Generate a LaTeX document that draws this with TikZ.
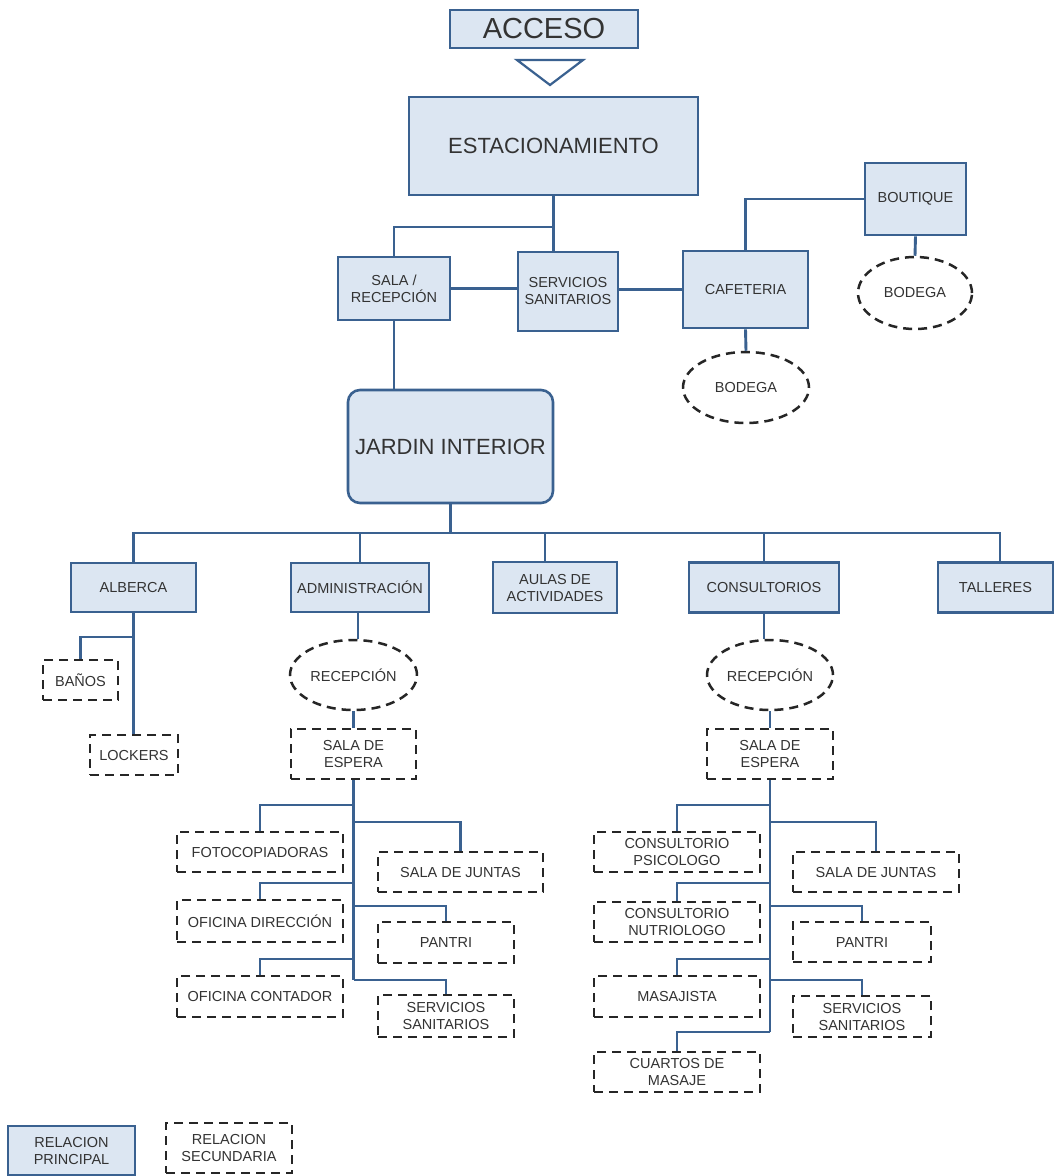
\documentclass[tikz,border=0pt]{standalone}
\usepackage{fontspec}
\setmainfont{Liberation Sans}
\usetikzlibrary{shapes.geometric}
\definecolor{bordblue}{HTML}{3A6190}
\definecolor{fillblue}{HTML}{DCE6F2}
\definecolor{txtc}{HTML}{333333}
\definecolor{dashc}{HTML}{262626}
\begin{document}
\begin{tikzpicture}[x=1pt,y=-1pt,
  every node/.style={inner sep=0pt, align=center, text=txtc, font=\fontsize{14.5}{17}\selectfont},
  mainbox/.style={draw=bordblue, line width=2.6pt, fill=fillblue, rectangle},
  secbox/.style={draw=dashc, line width=2.5pt, dash pattern=on 9pt off 6pt, rectangle, fill=white},
  secell/.style={draw=dashc, line width=2.5pt, dash pattern=on 9pt off 6pt, ellipse, fill=white},
  link/.style={draw=bordblue, line width=2.9pt},
  bigtxt/.style={font=\fontsize{22}{25}\selectfont},
]
\useasboundingbox[fill=white] (0,0) rectangle (1055,1176);

% level coordinates
\coordinate (h227) at (0,227);
\coordinate (h533) at (0,533);
\coordinate (h637) at (0,637);
\coordinate (y805) at (0,805);
\coordinate (y822) at (0,822);
\coordinate (y883) at (0,883);
\coordinate (y906) at (0,906);
\coordinate (y959) at (0,959);
\coordinate (y980) at (0,980);
\coordinate (y1032) at (0,1032);

% top
\node[mainbox, minimum width=188pt, minimum height=38pt, font=\fontsize{29}{31}\selectfont] (acceso) at (544,29) {ACCESO};
\draw[bordblue, line width=2.2pt, fill=white] (517,60) -- (583,60) -- (550,85) -- cycle;
\node[mainbox, bigtxt, minimum width=289pt, minimum height=98pt] (est) at (553.5,146) {ESTACIONAMIENTO};
\node[mainbox, minimum width=112pt, minimum height=63pt] (sala) at (394,288.5) {SALA /\\RECEPCIÓN};
\node[mainbox, minimum width=100pt, minimum height=79pt] (serv) at (568,291.5) {SERVICIOS\\SANITARIOS};
\node[mainbox, minimum width=125pt, minimum height=77pt] (caf) at (745.5,289.5) {CAFETERIA};
\node[mainbox, minimum width=101pt, minimum height=72pt] (bout) at (915.5,199) {BOUTIQUE};
\node[secell, minimum width=114pt, minimum height=72pt] (bod1) at (915,293) {BODEGA};
\node[secell, minimum width=126pt, minimum height=71pt] (bod2) at (746,387.5) {BODEGA};
\node[mainbox, bigtxt, rounded corners=12pt, minimum width=205pt, minimum height=113pt] (jardin) at (450.5,446.5) {JARDIN INTERIOR};

% second level
\node[mainbox, minimum width=125pt, minimum height=49pt] (alb) at (133.5,587.5) {ALBERCA};
\node[mainbox, minimum width=138pt, minimum height=49pt] (adm) at (360,587.5) {ADMINISTRACIÓN};
\node[mainbox, minimum width=124pt, minimum height=51pt] (aulas) at (555,587.5) {AULAS DE\\ACTIVIDADES};
\node[mainbox, minimum width=150pt, minimum height=50pt] (cons) at (764,587.5) {CONSULTORIOS};
\node[mainbox, minimum width=115pt, minimum height=50pt] (tall) at (995.5,587.5) {TALLERES};

% alberca
\node[secbox, minimum width=75pt, minimum height=40pt] (banos) at (80.5,680) {BAÑOS};
\node[secbox, minimum width=88pt, minimum height=40pt] (lockers) at (134,755) {LOCKERS};

% administracion
\node[secell, minimum width=127pt, minimum height=70pt] (rec1) at (353.5,675) {RECEPCIÓN};
\node[secbox, minimum width=125pt, minimum height=50pt] (sala1) at (353.5,754) {SALA DE\\ESPERA};
\node[secbox, minimum width=166pt, minimum height=40pt] (foto) at (260,852) {FOTOCOPIADORAS};
\node[secbox, minimum width=165pt, minimum height=40pt] (juntas1) at (460.5,872) {SALA DE JUNTAS};
\node[secbox, minimum width=166pt, minimum height=42pt] (ofdir) at (260,921) {OFICINA DIRECCIÓN};
\node[secbox, minimum width=136pt, minimum height=41pt] (pantri1) at (446,942.5) {PANTRI};
\node[secbox, minimum width=166pt, minimum height=41pt] (ofcont) at (260,996.5) {OFICINA CONTADOR};
\node[secbox, minimum width=136pt, minimum height=42pt] (serv1) at (446,1016) {SERVICIOS\\SANITARIOS};

% consultorios
\node[secell, minimum width=126pt, minimum height=70pt] (rec2) at (770,675) {RECEPCIÓN};
\node[secbox, minimum width=126pt, minimum height=50pt] (sala2) at (770,754) {SALA DE\\ESPERA};
\node[secbox, minimum width=166pt, minimum height=40pt] (psic) at (677,852) {CONSULTORIO\\PSICOLOGO};
\node[secbox, minimum width=166pt, minimum height=40pt] (juntas2) at (876,872) {SALA DE JUNTAS};
\node[secbox, minimum width=166pt, minimum height=40pt] (nutri) at (677,922) {CONSULTORIO\\NUTRIOLOGO};
\node[secbox, minimum width=138pt, minimum height=40pt] (pantri2) at (862,942) {PANTRI};
\node[secbox, minimum width=166pt, minimum height=41pt] (masaj) at (677,996.5) {MASAJISTA};
\node[secbox, minimum width=138pt, minimum height=41pt] (serv2) at (862,1016.5) {SERVICIOS\\SANITARIOS};
\node[secbox, minimum width=166pt, minimum height=40pt] (cuartos) at (677,1072) {CUARTOS DE\\MASAJE};

% legend
\node[mainbox, minimum width=127pt, minimum height=49pt] (leg1) at (71.5,1150.5) {RELACION\\PRINCIPAL};
\node[secbox, minimum width=126pt, minimum height=50pt] (leg2) at (229,1148) {RELACION\\SECUNDARIA};

% connectors top
\draw[link] (est.south) -- (est.south |- serv.north);
\draw[link] (est.south |- h227) -| (sala.north);
\draw[link] (sala.east) -- (sala.east -| serv.west);
\draw[link] (caf.west -| serv.east) -- (caf.west);
\draw[link] (bout.west) -| (caf.north);
\draw[link] (bout.south) -- (bod1.north);
\draw[link] (caf.south) -- (bod2.north);
\draw[link] (sala.south) -- (sala.south |- jardin.north);

% bus
\draw[link] (jardin.south) -- (jardin.south |- h533);
\draw[link] (alb.north) |- (jardin.south |- h533);
\draw[link] ([xshift=4.5pt]tall.north) |- (jardin.south |- h533);
\draw[link] (adm.north) -- (adm.north |- h533);
\draw[link] ([xshift=-10pt]aulas.north) -- ([xshift=-10pt]aulas.north |- h533);
\draw[link] (cons.north) -- (cons.north |- h533);

% alberca
\draw[link] (alb.south) -- (alb.south |- lockers.north);
\draw[link] (alb.south |- h637) -| (banos.north);

% administracion tree
\draw[link] ([xshift=-2pt]adm.south) -- ([xshift=-2pt]adm.south |- rec1.north);
\draw[link] (rec1.south) -- (sala1.north);
\draw[link] (sala1.south) -- (sala1.south |- y980);
\draw[link] (sala1.south |- y805) -| (foto.north);
\draw[link] (sala1.south |- y822) -| (juntas1.north);
\draw[link] (sala1.south |- y883) -| (ofdir.north);
\draw[link] (sala1.south |- y906) -| (pantri1.north);
\draw[link] (sala1.south |- y959) -| (ofcont.north);
\draw[link] (sala1.south |- y980) -| (serv1.north);

% consultorios tree
\draw[link] (cons.south) -- (cons.south |- rec2.north);
\draw[link] (rec2.south) -- (sala2.north);
\draw[link] (sala2.south) -- (sala2.south |- y1032);
\draw[link] (sala2.south |- y805) -| (psic.north);
\draw[link] (sala2.south |- y822) -| (juntas2.north);
\draw[link] (sala2.south |- y883) -| (nutri.north);
\draw[link] (sala2.south |- y906) -| (pantri2.north);
\draw[link] (sala2.south |- y959) -| (masaj.north);
\draw[link] (sala2.south |- y980) -| (serv2.north);
\draw[link] (sala2.south |- y1032) -| (cuartos.north);
\end{tikzpicture}
\end{document}
